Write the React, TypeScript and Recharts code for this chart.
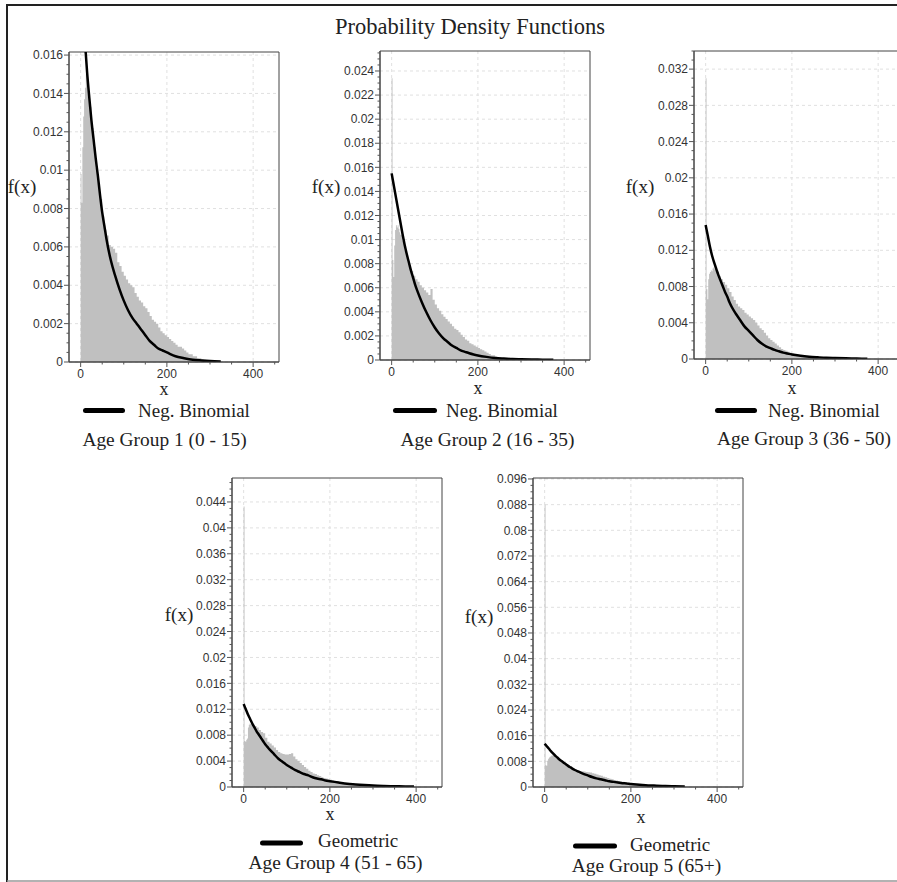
import React from 'react';
import { ComposedChart, Area, Line, XAxis, YAxis, CartesianGrid, ReferenceArea } from 'recharts';

// ---------- data ----------
const HIST_X = [0, 2, 4, 6, 8, 10, 12, 14, 16, 18, 20,
  25, 30, 35, 40, 45, 50, 55, 60, 65, 70,
  75, 80, 85, 90, 95, 100, 105, 110, 115, 120,
  125, 130, 135, 140, 145, 150, 155, 160, 165, 170,
  175, 180, 185, 190, 195, 200, 205, 210, 215, 220,
  225, 230, 235, 240, 245, 250, 255, 260, 265, 270,
  275, 280, 285, 290, 295, 300, 305, 310, 315, 320,
  325, 330];

const FIT_X = [0, 5, 10, 15, 20, 25, 30, 35, 40, 45, 50, 55, 60,
  70, 80, 90, 100, 110, 120, 130, 140, 150, 160, 170, 180, 190, 200,
  220, 240, 260, 280, 300, 325, 350, 375, 395];

const AG1_HIST = [0.0098, 0.0083, 0.0112, 0.0128, 0.0137, 0.0143, 0.0150, 0.0154, 0.0146, 0.0138, 0.0133,
  0.0122, 0.0112, 0.0101, 0.0093, 0.0085, 0.0076, 0.0069, 0.0066, 0.0061, 0.0060,
  0.0059, 0.0057, 0.0052, 0.0050, 0.0047, 0.0045, 0.0043, 0.0041, 0.0040, 0.0039,
  0.0036, 0.0034, 0.0032, 0.0031, 0.0029, 0.0028, 0.0026, 0.0024, 0.0022, 0.0021,
  0.0020, 0.0018, 0.0016, 0.0015, 0.0014, 0.0013, 0.0012, 0.0011, 0.0010, 0.0009,
  0.0008, 0.0008, 0.0007, 0.0006, 0.0005, 0.0004, 0.0004, 0.0003, 0.0003, 0.0002,
  0.0002, 0.00015, 0.00012, 0.0001, 0.0001, 0.00008, 0.00007, 0.00006, 0.00005, 0.00004,
  0.00003, 0];
const AG2_HIST = [0.0234, 0.0083, 0.0069, 0.0095, 0.0108, 0.0112, 0.0110, 0.0112, 0.0109, 0.0106, 0.0104,
  0.0099, 0.0091, 0.0085, 0.0079, 0.0074, 0.0070, 0.0067, 0.0065, 0.0062, 0.0060,
  0.0058, 0.0056, 0.0054, 0.0059, 0.0050, 0.0046, 0.0043, 0.0041, 0.0038, 0.0036,
  0.0034, 0.0032, 0.0030, 0.0028, 0.0026, 0.0025, 0.0023, 0.0021, 0.0019, 0.0017,
  0.0016, 0.0014, 0.0013, 0.0012, 0.0011, 0.0010, 0.0009, 0.0008, 0.0007, 0.0006,
  0.0005, 0.0004, 0.0004, 0.0003, 0.0002, 0.0002, 0.00015, 0.0001, 0.0001, 0.00008,
  0.00007, 0.00006, 0.00005, 0.00005, 0.00004, 0.00004, 0.00003, 0.00003, 0.00002, 0.00002,
  0.00001, 0];
const AG3_HIST = [0.0310, 0.0077, 0.0066, 0.0088, 0.0094, 0.0096, 0.0098, 0.0097, 0.0100, 0.0101, 0.0099,
  0.0096, 0.0092, 0.0088, 0.0085, 0.0082, 0.0078, 0.0074, 0.0069, 0.0065, 0.0061,
  0.0058, 0.0056, 0.0054, 0.0051, 0.0049, 0.0047, 0.0045, 0.0043, 0.0040, 0.0037,
  0.0034, 0.0032, 0.0029, 0.0026, 0.0023, 0.0021, 0.0019, 0.0017, 0.0015, 0.0013,
  0.0011, 0.0010, 0.0009, 0.0008, 0.0007, 0.0006, 0.0005, 0.0005, 0.0004, 0.0004,
  0.0003, 0.0003, 0.0002, 0.0002, 0.00015, 0.0001, 0.0001, 0.00009, 0.00008, 0.00007,
  0.00006, 0.00006, 0.00005, 0.00005, 0.00004, 0.00004, 0.00003, 0.00003, 0.00002, 0.00002,
  0.00001, 0];
const AG4_HIST = [0.0433, 0.0071, 0.0070, 0.0073, 0.0075, 0.0092, 0.0096, 0.0098, 0.0097, 0.0099, 0.0096,
  0.0094, 0.0092, 0.0088, 0.0085, 0.0083, 0.0076, 0.0070, 0.0067, 0.0064, 0.0061,
  0.0057, 0.0054, 0.0052, 0.0051, 0.0050, 0.0050, 0.0051, 0.0052, 0.0047, 0.0043,
  0.0040, 0.0037, 0.0034, 0.0031, 0.0028, 0.0025, 0.0023, 0.0021, 0.0020, 0.0018,
  0.0017, 0.0015, 0.0014, 0.0013, 0.0012, 0.0011, 0.0010, 0.0009, 0.0008, 0.0007,
  0.0006, 0.0006, 0.0005, 0.0005, 0.0004, 0.0004, 0.0003, 0.0003, 0.0002, 0.0002,
  0.00015, 0.00012, 0.0001, 0.0001, 0.00008, 0.00007, 0.00006, 0.00005, 0.00004, 0.00003,
  0.00002, 0];
const AG5_HIST = [0.0880, 0.0068, 0.0066, 0.0082, 0.0088, 0.0092, 0.0094, 0.0096, 0.0099, 0.0098, 0.0097,
  0.0092, 0.0087, 0.0082, 0.0077, 0.0072, 0.0068, 0.0064, 0.0060, 0.0057, 0.0054,
  0.0052, 0.0050, 0.0049, 0.0048, 0.0047, 0.0046, 0.0045, 0.0043, 0.0041, 0.0039,
  0.0037, 0.0035, 0.0032, 0.0030, 0.0028, 0.0026, 0.0024, 0.0022, 0.0020, 0.0019,
  0.0017, 0.0016, 0.0014, 0.0013, 0.0012, 0.0011, 0.0010, 0.0009, 0.0008, 0.0007,
  0.0006, 0.0006, 0.0005, 0.0004, 0.0004, 0.0003, 0.0003, 0.0002, 0.0002, 0.00015,
  0.00012, 0.0001, 0.0001, 0.00008, 0.00007, 0.00006, 0.00005, 0.00004, 0.00003, 0.00002,
  0.00001, 0];

const AG1_FIT = [0.0202, 0.0184, 0.0167, 0.0151, 0.0138, 0.0126, 0.0116, 0.0106, 0.0097, 0.0087, 0.0078, 0.0071, 0.0064,
  0.0053, 0.0045, 0.0038, 0.0032, 0.0027, 0.0023, 0.0020, 0.0017, 0.0014, 0.0011, 0.0009, 0.0007, 0.0006, 0.0005,
  0.0003, 0.0002, 0.00012, 0.00008, 0.00005, 0.00003, null, null, null];
const AG2_FIT = [0.0155, 0.0145, 0.0135, 0.0125, 0.0115, 0.0105, 0.0096, 0.0088, 0.0081, 0.0074, 0.0068, 0.0062, 0.0057,
  0.0048, 0.0040, 0.0033, 0.0027, 0.0022, 0.0018, 0.0015, 0.0012, 0.0010, 0.0008, 0.00068, 0.00056, 0.00046, 0.00038,
  0.00026, 0.00017, 0.00012, 0.00008, 0.00006, 0.00004, 0.00003, 0.00002, null];
const AG3_FIT = [0.0148, 0.0136, 0.0124, 0.0114, 0.0106, 0.0099, 0.0092, 0.0086, 0.0080, 0.0074, 0.0069, 0.0063, 0.0058,
  0.0050, 0.0043, 0.0036, 0.0031, 0.0026, 0.0021, 0.0017, 0.0014, 0.0012, 0.0010, 0.00085, 0.0007, 0.0006, 0.0005,
  0.00036, 0.00026, 0.00019, 0.00013, 0.0001, 0.00007, 0.00005, 0.00003, null];
const AG4_FIT = [0.0128, 0.0120, 0.0112, 0.0105, 0.0098, 0.0092, 0.0086, 0.0081, 0.0076, 0.0071, 0.0066, 0.0062, 0.0058,
  0.0051, 0.0044, 0.0039, 0.0034, 0.0030, 0.0026, 0.0023, 0.0020, 0.0018, 0.0015, 0.0013, 0.0012, 0.0010, 0.0009,
  0.0007, 0.0005, 0.0004, 0.0003, 0.00022, 0.00016, 0.00012, 0.00009, 0.00007];
const AG5_FIT = [0.0135, 0.0127, 0.0119, 0.0111, 0.0104, 0.0097, 0.0091, 0.0085, 0.0080, 0.0075, 0.0070, 0.0065, 0.0061,
  0.0053, 0.0047, 0.0041, 0.0036, 0.0031, 0.0027, 0.0024, 0.0021, 0.0018, 0.0016, 0.0014, 0.0012, 0.0011, 0.0009,
  0.0007, 0.0005, 0.0004, 0.0003, 0.00022, 0.00016, null, null, null];

const Y_TICKS_1 = [0, 0.002, 0.004, 0.006, 0.008, 0.01, 0.012, 0.014, 0.016];
const Y_TICKS_2 = [0, 0.002, 0.004, 0.006, 0.008, 0.01, 0.012, 0.014, 0.016, 0.018, 0.02, 0.022, 0.024];
const Y_TICKS_3 = [0, 0.004, 0.008, 0.012, 0.016, 0.02, 0.024, 0.028, 0.032];
const Y_TICKS_4 = [0, 0.004, 0.008, 0.012, 0.016, 0.02, 0.024, 0.028, 0.032, 0.036, 0.04, 0.044];
const Y_TICKS_5 = [0, 0.008, 0.016, 0.024, 0.032, 0.04, 0.048, 0.056, 0.064, 0.072, 0.08, 0.088, 0.096];

const X_MAJOR = [0, 200, 400];
const X_MINOR = [50, 100, 150, 250, 300, 350, 450];
const X_DOMAIN: [number, number] = [-27, 460];

const TITLE = 'Probability Density Functions';
const CAPTIONS = ['Age Group 1 (0 - 15)', 'Age Group 2 (16 - 35)', 'Age Group 3 (36 - 50)', 'Age Group 4 (51 - 65)', 'Age Group 5 (65+)'];
const MODELS = ['Neg. Binomial', 'Neg. Binomial', 'Neg. Binomial', 'Geometric', 'Geometric'];

// ---------- layout ----------
const SERIF = '"Liberation Serif", "Times New Roman", serif';
const SANS = '"Liberation Sans", Arial, sans-serif';
const YW = 60;
const XH = 30;
const MT = 5;
const MR = 5;

type Panel = {
  left: number; top: number; width: number; height: number;
  yMax: number; yMajor: number[]; minorStep: number;
  hist: number[]; fit: (number | null)[];
  fx: [number, number]; xl: [number, number];
  leg: [number, number, number, number, number];
  cap: [number, number];
};

const PANELS: Panel[] = [
  { left: 69, top: 52, width: 210, height: 310, yMax: 0.01616, yMajor: Y_TICKS_1, minorStep: 0.0005,
    hist: AG1_HIST, fit: AG1_FIT, fx: [22, 193], xl: [164, 395], leg: [85.5, 122.5, 410.5, 138, 416.5], cap: [164.5, 446] },
  { left: 380, top: 51, width: 210, height: 309, yMax: 0.02566, yMajor: Y_TICKS_2, minorStep: 0.0005,
    hist: AG2_HIST, fit: AG2_FIT, fx: [326, 193], xl: [478, 394], leg: [395.5, 434.5, 410.5, 446, 416.5], cap: [487.5, 446] },
  { left: 694, top: 51, width: 210, height: 308, yMax: 0.034, yMajor: Y_TICKS_3, minorStep: 0.001,
    hist: AG3_HIST, fit: AG3_FIT, fx: [640, 193], xl: [792, 394], leg: [717.5, 754.5, 410.5, 768, 416.5], cap: [804, 445] },
  { left: 232, top: 478, width: 210, height: 309, yMax: 0.0477, yMajor: Y_TICKS_4, minorStep: 0.001,
    hist: AG4_HIST, fit: AG4_FIT, fx: [179, 621], xl: [330, 820], leg: [262.5, 300.5, 843, 318, 847], cap: [335.5, 869] },
  { left: 533, top: 478, width: 210, height: 309, yMax: 0.0963, yMajor: Y_TICKS_5, minorStep: 0.002,
    hist: AG5_HIST, fit: AG5_FIT, fx: [479, 623], xl: [641, 823], leg: [575.5, 614.5, 846, 630, 851], cap: [646.5, 872] },
];

const fmt = (v: number) => String(+v.toFixed(4));

function allYTicks(max: number, step: number): number[] {
  const out: number[] = [];
  for (let i = 0; i * step <= max + 1e-12; i++) out.push(+(i * step).toFixed(6));
  return out;
}

function makeYTick(majors: number[]) {
  return (p: any) => {
    const v = p.payload.value;
    const ax = p.x + 7;
    const isMajor = majors.some((m) => Math.abs(m - v) < 1e-9);
    return (
      <g>
        <line x1={ax - (isMajor ? 5 : 2.5)} x2={ax} y1={p.y} y2={p.y} stroke="#555" strokeWidth={1} />
        {isMajor ? (
          <text x={ax - 6} y={p.y} dy={4.2} textAnchor="end" fontSize={12} fill="#333" fontFamily={SANS}>{fmt(v)}</text>
        ) : null}
      </g>
    );
  };
}

const xTick = (p: any) => {
  const v = p.payload.value;
  const ay = p.y - 7;
  const isMajor = X_MAJOR.includes(v);
  return (
    <g>
      <line x1={p.x} x2={p.x} y1={ay} y2={ay + (isMajor ? 5 : 2.5)} stroke="#555" strokeWidth={1} />
      {isMajor ? (
        <text x={p.x} y={ay + 15.5} textAnchor="middle" fontSize={12} fill="#333" fontFamily={SANS}>{v}</text>
      ) : null}
    </g>
  );
};

function PanelChart({ cfg }: { cfg: Panel }) {
  const histData = HIST_X.map((x, i) => ({ x, h: cfg.hist[i] }));
  const fitData = FIT_X.map((x, i) => ({ x, f: cfg.fit[i] }));
  const yTicks = allYTicks(cfg.yMax, cfg.minorStep);
  return (
    <div style={{ position: 'absolute', left: cfg.left - YW, top: cfg.top - MT }}>
      <ComposedChart width={cfg.width + YW + MR} height={cfg.height + MT + XH}
        margin={{ top: MT, right: MR, bottom: 0, left: 0 }}>
        <CartesianGrid stroke="#e0e0e0" strokeDasharray="3 3" horizontalValues={cfg.yMajor} verticalValues={X_MAJOR} />
        <XAxis type="number" dataKey="x" domain={X_DOMAIN} allowDataOverflow ticks={[...X_MAJOR, ...X_MINOR]}
          interval={0} tick={xTick} tickLine={false} tickSize={5} tickMargin={2} height={XH}
          axisLine={{ stroke: '#444' }} />
        <YAxis type="number" domain={[0, cfg.yMax]} allowDataOverflow ticks={yTicks} interval={0}
          tick={makeYTick(cfg.yMajor)} tickLine={false} tickSize={5} tickMargin={2} width={YW}
          axisLine={{ stroke: '#444' }} />
        <Area data={histData} dataKey="h" type="stepAfter" fill="#c0c0c0" fillOpacity={1} stroke="none"
          isAnimationActive={false} dot={false} activeDot={false} />
        <Line data={fitData} dataKey="f" type="monotone" stroke="#000" strokeWidth={2.5} dot={false}
          activeDot={false} isAnimationActive={false} />
        <ReferenceArea x1={X_DOMAIN[0]} x2={X_DOMAIN[1]} y1={0} y2={cfg.yMax} fill="none" fillOpacity={0}
          stroke="#444" strokeWidth={1} ifOverflow="visible" />
      </ComposedChart>
    </div>
  );
}

export default function App() {
  return (
    <div style={{ position: 'absolute', left: 0, top: 0, width: 897, height: 882, overflow: 'hidden', background: '#fff' }}>
      {PANELS.map((p, i) => <PanelChart key={i} cfg={p} />)}
      <svg width={897} height={882} style={{ position: 'absolute', left: 0, top: 0, pointerEvents: 'none' }}>
        <line x1={6} x2={897} y1={5} y2={5} stroke="#222" strokeWidth={2} />
        <line x1={7} x2={7} y1={4} y2={882} stroke="#222" strokeWidth={2} />
        <line x1={7} x2={897} y1={881} y2={881} stroke="#999" strokeWidth={1.5} />
        <text x={470} y={34} textAnchor="middle" fontSize={22.5} fontFamily={SERIF} fill="#222">{TITLE}</text>
        {PANELS.map((p, i) => (
          <g key={i}>
            <text x={p.fx[0]} y={p.fx[1]} textAnchor="middle" fontSize={19} fontFamily={SERIF} fill="#222">f(x)</text>
            <text x={p.xl[0]} y={p.xl[1]} textAnchor="middle" fontSize={18} fontFamily={SERIF} fill="#222">x</text>
            <line x1={p.leg[0]} x2={p.leg[1]} y1={p.leg[2]} y2={p.leg[2]} stroke="#000" strokeWidth={5} strokeLinecap="round" />
            <text x={p.leg[3]} y={p.leg[4]} fontSize={19} fontFamily={SERIF} fill="#222">{MODELS[i]}</text>
            <text x={p.cap[0]} y={p.cap[1]} textAnchor="middle" fontSize={19.4} fontFamily={SERIF} fill="#222">{CAPTIONS[i]}</text>
          </g>
        ))}
      </svg>
    </div>
  );
}
